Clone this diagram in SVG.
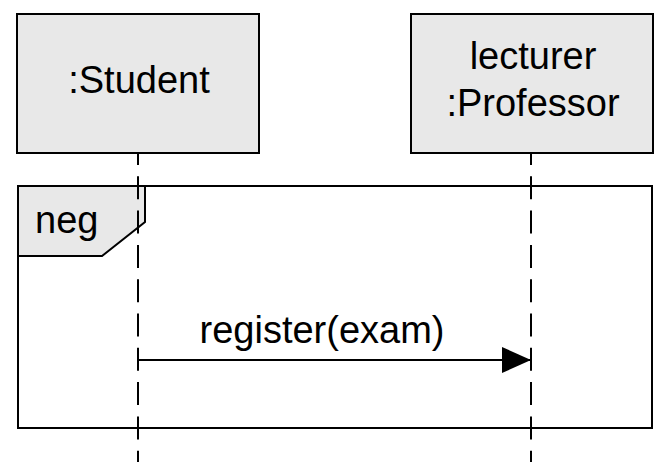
<svg xmlns="http://www.w3.org/2000/svg" width="670" height="476" viewBox="0 0 670 476">
  <defs>
    <style>
      .box { fill: #e8e8e8; stroke: #000; stroke-width: 2; }
      .lbl { font-family: "Liberation Sans", Arial, sans-serif; font-size: 38px; fill: #000; }
      .life { stroke: #000; stroke-width: 2; stroke-dasharray: 23 11.3; stroke-dashoffset: 11; fill: none; }
      .frame { fill: none; stroke: #000; stroke-width: 2; }
      .msg { stroke: #000; stroke-width: 2; fill: none; }
    </style>
    <marker id="filled" markerUnits="userSpaceOnUse" markerWidth="30" markerHeight="28" refX="29" refY="13" orient="auto">
      <path d="M0,0 L29,13 L0,26 Z" fill="#000"/>
    </marker>
  </defs>
  <rect width="670" height="476" fill="#fff"/>

  <g id="frame-neg">
    <rect class="frame" x="18" y="186" width="634" height="242"/>
    <path class="box" d="M18,186 L145,186 L145,222 L102,256 L18,256 Z"/>
    <text class="lbl" x="35" y="233">neg</text>
  </g>

  <g id="connectors">
    <line class="life" x1="138" y1="153" x2="138" y2="462"/>
    <line class="life" x1="531" y1="153" x2="531" y2="462"/>
    <line class="msg" x1="138" y1="360" x2="531" y2="360" marker-end="url(#filled)"/>
    <text class="lbl" x="322" y="343" text-anchor="middle">register(exam)</text>
  </g>

  <g id="student">
    <rect class="box" x="17" y="14" width="242" height="139"/>
    <text class="lbl" x="139" y="93" text-anchor="middle">:Student</text>
  </g>

  <g id="professor">
    <rect class="box" x="411" y="14" width="242" height="139"/>
    <text class="lbl" x="533" y="69" text-anchor="middle">lecturer</text>
    <text class="lbl" x="533" y="116" text-anchor="middle">:Professor</text>
  </g>
</svg>
